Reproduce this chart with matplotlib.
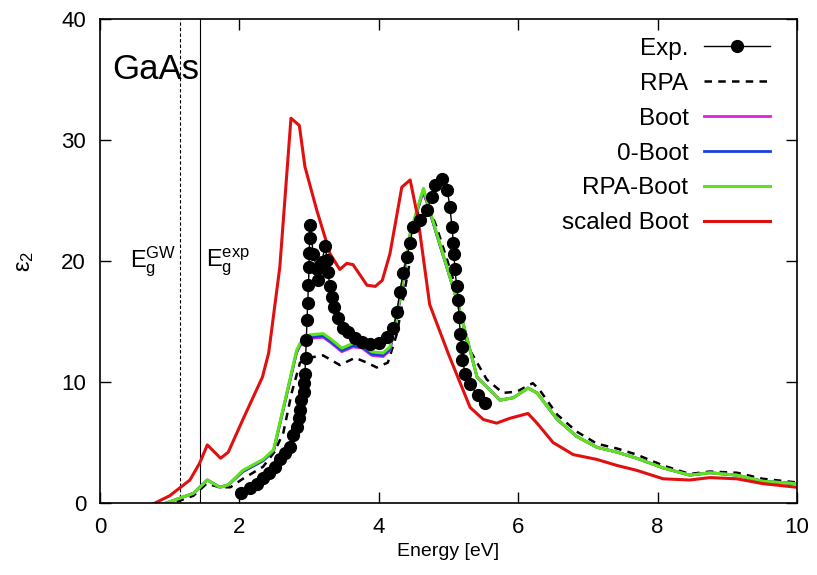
import numpy as np
import matplotlib.pyplot as plt
from matplotlib.lines import Line2D

plt.rcParams["font.family"] = ["Liberation Sans", "DejaVu Sans"]
plt.rcParams["mathtext.fontset"] = "custom"
plt.rcParams["mathtext.rm"] = "Liberation Sans"
plt.rcParams["mathtext.it"] = "Liberation Sans"

# experiment (dots)
exp_e = [2.03, 2.15, 2.25, 2.34, 2.42, 2.51, 2.58, 2.66, 2.73, 2.77, 2.82, 2.85,
         2.87, 2.89, 2.92, 2.93, 2.94, 2.95, 2.96, 2.97, 2.98, 2.99, 3.00, 3.00,
         3.01, 3.01, 3.06, 3.11, 3.13, 3.18, 3.23, 3.26, 3.27, 3.30, 3.33, 3.36,
         3.41, 3.49, 3.56, 3.66, 3.76, 3.87, 4.00, 4.12, 4.21, 4.26, 4.30, 4.35,
         4.40, 4.45, 4.49, 4.59, 4.69, 4.76, 4.81, 4.90, 4.98, 5.02, 5.05, 5.07,
         5.08, 5.09, 5.12, 5.14, 5.15, 5.17, 5.19, 5.20, 5.24, 5.31, 5.42, 5.52]
exp_eps = [0.8, 1.2, 1.6, 2.1, 2.5, 3.0, 3.6, 4.1, 4.6, 5.6, 6.3, 7.0,
           7.7, 8.5, 9.2, 9.9, 10.7, 12.0, 13.5, 15.1, 16.5, 18.0, 19.5, 20.7,
           21.9, 23.0, 20.6, 19.3, 18.4, 19.9, 21.2, 20.1, 19.1, 17.9, 17.0, 16.2,
           15.3, 14.5, 14.1, 13.6, 13.3, 13.1, 13.2, 13.7, 14.5, 15.8, 17.4, 19.0,
           20.3, 21.5, 22.8, 23.4, 24.2, 25.3, 26.3, 26.8, 25.9, 24.5, 22.8, 21.5,
           20.6, 19.3, 17.9, 16.8, 15.4, 14.0, 12.9, 11.8, 10.7, 9.8, 8.9, 8.3]

# RPA (dashed)
rpa_e = [1.10, 1.34, 1.53, 1.72, 1.87, 2.05, 2.34, 2.50, 2.63, 2.75, 2.87, 3.00,
         3.20, 3.44, 3.66, 3.83, 3.97, 4.13, 4.26, 4.45, 4.59, 4.64, 4.83, 4.98,
         5.12, 5.28, 5.55, 5.78, 5.98, 6.14, 6.21, 6.30, 6.56, 6.84, 7.13, 7.42,
         7.70, 8.08, 8.46, 8.75, 9.14, 9.51, 10.0]
rpa_eps = [0.1, 0.6, 1.6, 1.3, 1.3, 2.0, 3.0, 4.2, 5.8, 9.1, 11.6, 12.0,
           12.2, 11.4, 12.0, 11.6, 11.2, 11.6, 14.0, 20.1, 25.0, 25.6, 22.8, 20.1,
           17.5, 12.9, 10.2, 9.1, 9.2, 9.7, 9.9, 9.4, 7.3, 5.9, 4.9, 4.5,
           4.0, 3.1, 2.4, 2.6, 2.5, 2.0, 1.7]

# energy grid shared by the bootstrap curves
boot_e = [0.95, 1.34, 1.54, 1.72, 1.84, 2.05, 2.34, 2.49, 2.68, 2.82, 2.87, 3.01,
          3.20, 3.30, 3.47, 3.63, 3.76, 3.90, 4.06, 4.16, 4.30, 4.45, 4.64, 4.83,
          5.12, 5.41, 5.74, 5.93, 6.14, 6.27, 6.56, 6.84, 7.13, 7.42, 7.70, 8.08,
          8.46, 8.75, 9.14, 9.51, 10.0]
boot_eps = [0.0, 0.8, 1.9, 1.3, 1.5, 2.6, 3.5, 4.3, 9.0, 12.4, 13.0, 13.6,
            13.7, 13.3, 12.5, 12.9, 12.8, 12.2, 12.1, 12.6, 16.6, 22.2, 25.8, 22.2,
            16.8, 10.4, 8.5, 8.7, 9.5, 9.1, 6.9, 5.5, 4.6, 4.2, 3.7, 2.9,
            2.3, 2.5, 2.3, 1.8, 1.6]
zero_boot_eps = [0.0, 0.8, 1.9, 1.3, 1.5, 2.6, 3.5, 4.3, 9.0, 12.5, 13.1, 13.7,
                 13.8, 13.4, 12.6, 13.0, 12.9, 12.3, 12.2, 12.7, 16.7, 22.2, 25.9, 22.2,
                 16.8, 10.4, 8.5, 8.7, 9.5, 9.1, 6.9, 5.5, 4.6, 4.2, 3.7, 2.9,
                 2.3, 2.5, 2.3, 1.8, 1.6]
rpa_boot_eps = [0.0, 0.8, 1.9, 1.3, 1.5, 2.7, 3.6, 4.4, 9.1, 12.6, 13.2, 13.9,
                14.0, 13.6, 12.8, 13.2, 13.1, 12.5, 12.4, 12.9, 16.8, 22.3, 26.0, 22.3,
                16.8, 10.4, 8.5, 8.7, 9.5, 9.1, 6.9, 5.5, 4.6, 4.2, 3.7, 2.9,
                2.3, 2.5, 2.3, 1.8, 1.6]

# scaled Boot (red)
scaled_e = [0.79, 1.00, 1.29, 1.43, 1.54, 1.73, 1.84, 2.05, 2.33, 2.42, 2.58, 2.74,
            2.86, 2.94, 3.11, 3.30, 3.44, 3.54, 3.63, 3.83, 3.95, 4.05, 4.16, 4.33,
            4.45, 4.56, 4.73, 5.00, 5.31, 5.50, 5.69, 5.88, 6.14, 6.27, 6.50, 6.79,
            7.13, 7.42, 7.70, 8.08, 8.46, 8.75, 9.14, 9.51, 10.0]
scaled_eps = [0.0, 0.6, 1.9, 3.3, 4.8, 3.7, 4.2, 6.9, 10.4, 12.4, 19.5, 31.8,
              31.2, 27.8, 24.2, 20.6, 19.3, 19.8, 19.7, 18.0, 17.9, 18.4, 20.6, 26.1,
              26.7, 23.6, 16.4, 12.3, 7.9, 6.9, 6.6, 7.0, 7.4, 6.6, 5.0, 4.0,
              3.6, 3.1, 2.7, 2.0, 1.9, 2.1, 2.0, 1.6, 1.3]

gap_gw = 1.15
gap_exp = 1.43

fig = plt.figure(figsize=(8.17, 5.75), dpi=100)
ax = fig.add_axes([0.1224, 0.1252, 0.8531, 0.8418])

ax.plot([gap_gw, gap_gw], [0, 40], color="black", lw=0.8, ls=(0, (3, 2)))
ax.plot([gap_exp, gap_exp], [0, 40], color="black", lw=0.8)

ax.plot(rpa_e, rpa_eps, color="black", lw=1.8, ls=(0, (3, 2.5)))
ax.plot(boot_e, boot_eps, color="#e020e0", lw=2.0)
ax.plot(boot_e, zero_boot_eps, color="#1a3fe0", lw=2.0)
ax.plot(boot_e, rpa_boot_eps, color="#5ee21a", lw=2.2)
ax.plot(scaled_e, scaled_eps, color="#e01010", lw=2.2)
ax.plot(exp_e, exp_eps, color="black", lw=1.0, marker="o", ms=8.5)

ax.text(0.17, 35.8, "GaAs", fontsize=25, va="center", ha="left")
ax.text(0.77, 19.9, r"$\mathregular{E_g^{GW}}$", fontsize=17, ha="center", va="center")
ax.text(1.83, 19.9, r"$\mathregular{E_g^{exp}}$", fontsize=17, ha="center", va="center")

handles = [
    Line2D([], [], color="black", lw=1.0, marker="o", ms=8.5),
    Line2D([], [], color="black", lw=1.8, ls=(0, (3, 2.5))),
    Line2D([], [], color="#e020e0", lw=2.0),
    Line2D([], [], color="#1a3fe0", lw=2.0),
    Line2D([], [], color="#5ee21a", lw=2.2),
    Line2D([], [], color="#e01010", lw=2.2),
]
labels = ["Exp.", "RPA", "Boot", "0-Boot", "RPA-Boot", "scaled Boot"]
ax.legend(handles, labels, loc="upper right", frameon=False, markerfirst=False,
          fontsize=17.5, handlelength=2.7, labelspacing=0.53, handletextpad=0.65,
          borderaxespad=0, borderpad=0, bbox_to_anchor=(0.961, 0.961))

ax.set_xlim(0, 10)
ax.set_ylim(0, 40)
ax.set_xticks([0, 2, 4, 6, 8, 10])
ax.set_yticks([0, 10, 20, 30, 40])
ax.tick_params(direction="in", length=8, width=1, top=True, right=True,
               labelsize=16, pad=10)
for s in ax.spines.values():
    s.set_linewidth(1.2)
ax.set_xlabel("Energy [eV]", fontsize=14, labelpad=4)
ax.set_ylabel(r"$\mathregular{\varepsilon_2}$", fontsize=17, labelpad=18)

fig.savefig("out.png", dpi=100)
